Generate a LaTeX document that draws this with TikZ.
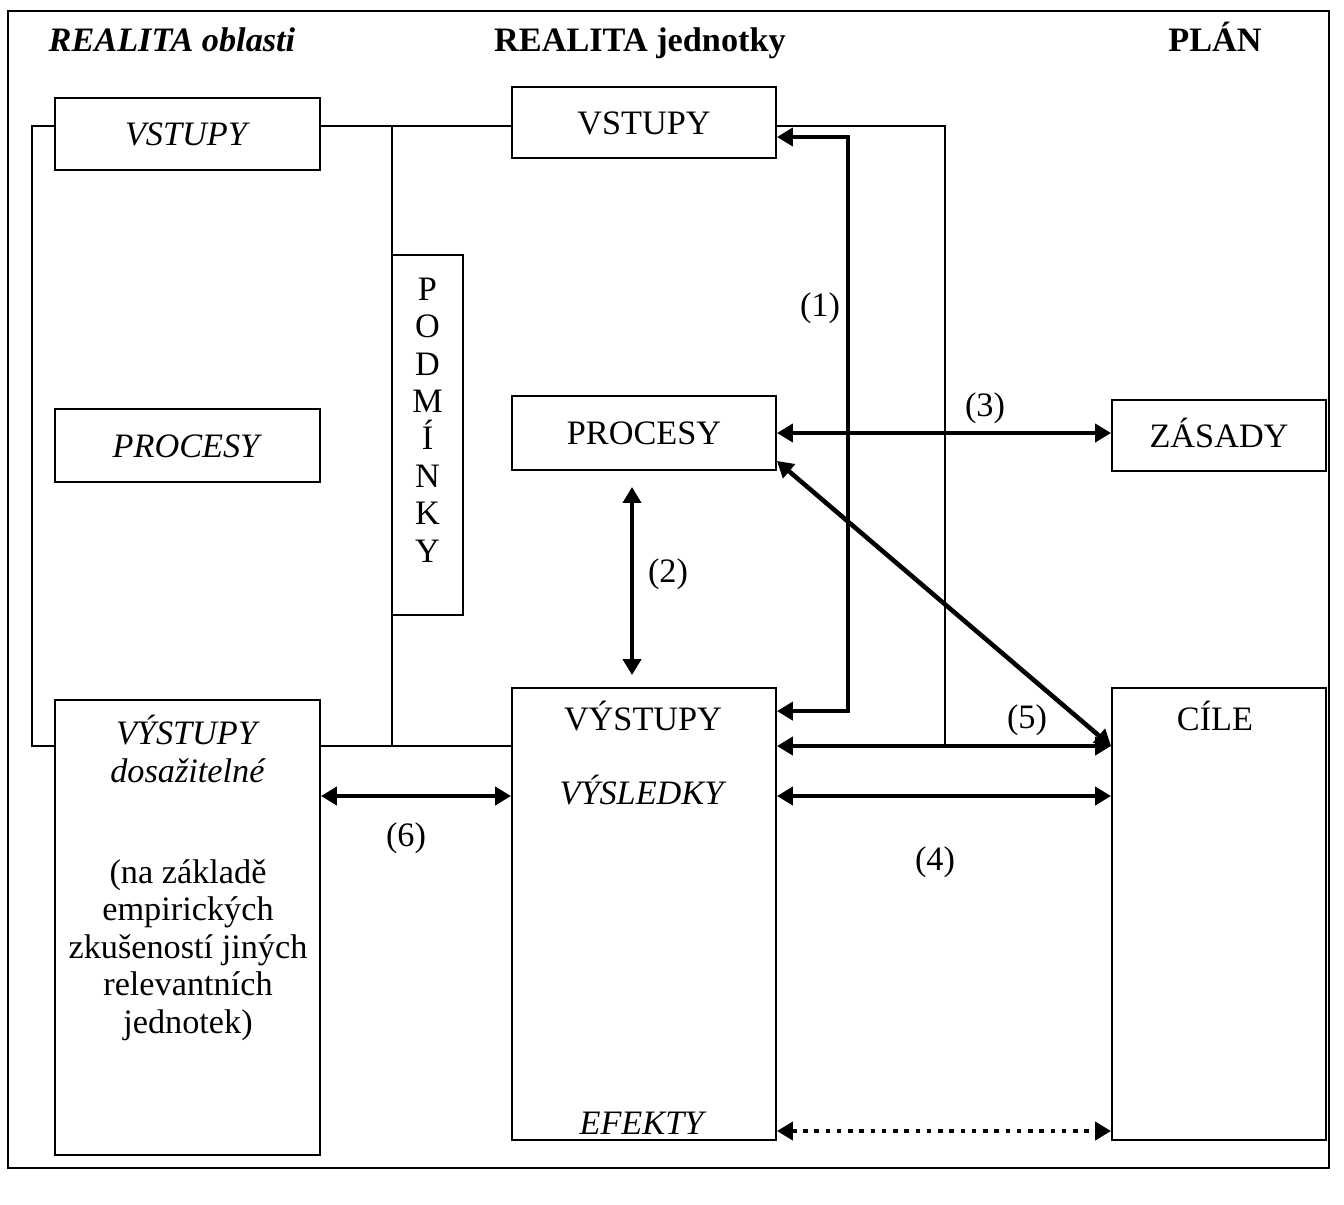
\documentclass[tikz,border=0pt]{standalone}
\usepackage{fontspec}
\setmainfont{Liberation Serif}
\usetikzlibrary{arrows.meta}

\begin{document}
\begin{tikzpicture}[
	x=0.02cm, y=-0.02cm,
	font=\fontsize{19.5}{21.3}\selectfont,
	box/.style = {rectangle, draw, line width=1.1pt, inner sep=0pt, text height=0.46cm, text depth=0pt},
	txt/.style = {inner sep=0pt, align=center},
	ln/.style  = {line width=1pt},
	arr/.style = {{Triangle[length=0.32cm,width=0.36cm]}-{Triangle[length=0.32cm,width=0.36cm]}, line width=2.6pt},
	dot/.style = {arr, dash pattern=on 2.6pt off 3.8pt}
	]
	\useasboundingbox (0,0) rectangle (1344,1204);
	\draw[line width=1.1pt] (8,11) rectangle (1329,1168);
	
	% === === Headers === ===
	\node[txt, anchor=base]	(hobl)	at	(172, 51)	{\textbf{\textit{REALITA oblasti}}};
	\node[txt, anchor=base]	(hjed)	at	(640, 51)	{\textbf{REALITA jednotky}};
	\node[txt, anchor=base]	(hplan)	at	(1215, 51)	{\textbf{PLÁN}};
	
	% === === Nodes === ===
	\node[box, minimum width=5.3cm, minimum height=1.44cm]	(lvst)	at	(187.5, 134)	{\textit{VSTUPY}};
	\node[box, minimum width=5.3cm, minimum height=1.46cm]	(lproc)	at	(187.5, 445.5)	{\textit{PROCESY}};
	\node[box, minimum width=5.3cm, minimum height=9.1cm]	(lvyst)	at	(187.5, 927.5)	{};
	
	\node[box, minimum width=1.42cm, minimum height=7.2cm]	(podm)	at	(427.5, 435)	{};
	
	\node[box, minimum width=5.28cm, minimum height=1.42cm]	(rvst)	at	(644, 122.5)	{VSTUPY};
	\node[box, minimum width=5.28cm, minimum height=1.48cm]	(rproc)	at	(644, 433)	{PROCESY};
	\node[box, minimum width=5.28cm, minimum height=9.04cm]	(rvyst)	at	(644, 914)	{};
	
	\node[box, minimum width=4.28cm, minimum height=1.42cm]	(zas)	at	(1219, 435.5)	{ZÁSADY};
	\node[box, minimum width=4.28cm, minimum height=9.04cm]	(cile)	at	(1219, 914)	{};
	
	% === === Texts === ===
	\node[txt]	(podmtxt)	at	(427.5, 420)	{P\\O\\D\\M\\Í\\N\\K\\Y};
	
	\node[txt, anchor=base]	(lvysta)	at	(188, 744)	{\textit{VÝSTUPY}};
	\node[txt, anchor=base]	(lvystb)	at	(188, 782)	{\textit{dosažitelné}};
	\node[txt]	(lvystc)	at	(188, 950)	{(na základě\\empirických\\zkušeností jiných\\relevantních\\jednotek)};
	
	\node[txt, anchor=base]	(rvysta)	at	(643, 730)	{VÝSTUPY};
	\node[txt, anchor=base]	(rvystb)	at	(643, 804)	{\textit{VÝSLEDKY}};
	\node[txt, anchor=base]	(rvystc)	at	(643, 1134)	{\textit{EFEKTY}};
	
	\node[txt, anchor=base]	(ciletxt)	at	(1215, 730)	{CÍLE};
	
	\node[txt]	(n1)	at	(820, 308)	{(1)};
	\node[txt]	(n2)	at	(668, 574)	{(2)};
	\node[txt]	(n3)	at	(985, 408)	{(3)};
	\node[txt]	(n4)	at	(935, 862)	{(4)};
	\node[txt]	(n5)	at	(1027, 720)	{(5)};
	\node[txt]	(n6)	at	(406, 838)	{(6)};
	
	% === === Lines === ===
	\coordinate	(lh)	at	(32, 126);
	\coordinate	(ld)	at	(32, 746);
	\coordinate	(mh)	at	(392, 126);
	\coordinate	(md)	at	(392, 746);
	\coordinate	(ph)	at	(945, 126);
	\coordinate	(pd)	at	(945, 746);
	\coordinate	(k1)	at	(848, 400);
	\coordinate	(vy)	at	(0, 796);
	\coordinate	(ef)	at	(0, 1131);
	
	\draw[ln]	([yshift=0.16cm]lvst.west)	--	(lh)	--	(ld)	--	(ld -| lvyst.west);
	\draw[ln]	([yshift=0.16cm]lvst.east)	--	(mh -| rvst.west);
	\draw[ln]	(mh)	--	(md);
	\draw[ln]	(md -| lvyst.east)	--	(md -| rvyst.west);
	\draw[ln]	(mh -| rvst.east)	--	(ph)	--	(pd);
	
	\draw[arr]	([yshift=-0.29cm]rvst.east)	-|	(k1)	|-	([yshift=-0.48cm]rvyst.north east);
	\draw[arr]	([xshift=-0.24cm, yshift=-0.32cm]rproc.south)	--	([xshift=-0.24cm, yshift=0.24cm]rvyst.north);
	\draw[arr]	(rproc.east)	--	(rproc.east -| zas.west);
	\draw[arr]	([yshift=0.2cm]rproc.south east)	--	(pd -| cile.west);
	\draw[arr]	(pd -| rvyst.east)	--	(pd -| cile.west);
	\draw[arr]	(vy -| rvyst.east)	--	(vy -| cile.west);
	\draw[arr]	(vy -| lvyst.east)	--	(vy -| rvyst.west);
	\draw[dot]	(ef -| rvyst.east)	--	(ef -| cile.west);
	
\end{tikzpicture}
\end{document}
